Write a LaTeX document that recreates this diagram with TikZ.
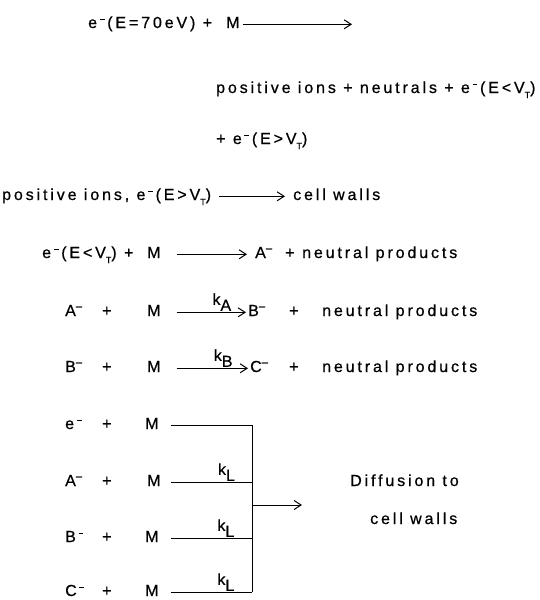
\documentclass[tikz,border=0pt]{standalone}
\usepackage{fontspec}
\setmainfont[LetterSpace=18,FakeBold=0.6]{Liberation Sans}
\usetikzlibrary{arrows.meta,positioning}

\newcommand{\sminus}{\raisebox{0.95ex}{\rule{0.3em}{0.09em}}}
\newcommand{\elec}{e\,\sminus\,}
\newcommand{\anion}[1]{#1\textsuperscript{--}}
\newcommand{\VT}{V\raisebox{-0.6ex}{\small T}}
\newcommand{\rate}[1]{k\raisebox{-0.7ex}{#1}}

\tikzset{
  chem/.style={anchor=base west,inner sep=0pt,text height=1.4ex,text depth=0pt,
    font=\fontsize{16}{18}\selectfont},
  rxn/.style={-{Straight Barb[length=7pt,width=9pt]},line width=1pt},
  rlabel/.style={above,inner sep=1pt,font=\fontsize{16}{18}\selectfont},
}

\begin{document}
\begin{tikzpicture}[x=1pt,y=-1pt]
\useasboundingbox (0,0) rectangle (539,600);
% ionization
\node[chem] (e1) at (88,28) {\elec(E=70eV) +};
\node[chem] (m1) at (226,28) {M};
\coordinate (end1) at (352,0);
\draw[rxn,shorten <=3pt] (m1.east) -- (m1.east -| end1);
\node[chem] (p2) at (216,93) {positive ions + neutrals + \elec(E<\VT)};
\node[chem] (p3) at (216,144) {+ \elec(E>\VT)};
% loss to walls
\node[chem] (w4) at (2,200) {positive ions, \elec(E>\VT)};
\node[chem] (c4) at (293,200) {cell walls};
\draw[rxn,shorten <=8pt,shorten >=8pt] (w4.east) -- (c4.west);
% attachment
\node[chem] (e5) at (42,258) {\elec(E<\VT) +};
\node[chem] (m5) at (147,258) {M};
\node[chem] (a5) at (255,258) {\anion{A}};
\node[chem] (p5) at (285,258) {+};
\node[chem] (n5) at (302,258) {neutral products};
\draw[rxn,shorten <=16pt,shorten >=8pt] (m5.east) -- (m5.east -| a5.west);
\node[chem] (a6) at (65,316) {\anion{A}};
\node[chem] (p6) at (102,316) {+};
\node[chem] (m6) at (147,316) {M};
\node[chem] (b6) at (248,316) {\anion{B}};
\node[chem] (q6) at (289,316) {+};
\node[chem] (n6) at (322,316) {neutral products};
\draw[rxn,shorten <=16pt,shorten >=2pt] (m6.east) -- (m6.east -| b6.west)
  node[rlabel,pos=0.7] {\rate{A}};
\node[chem] (b7) at (65,372) {\anion{B}};
\node[chem] (p7) at (102,372) {+};
\node[chem] (m7) at (147,372) {M};
\node[chem] (c7) at (250,372) {\anion{C}};
\node[chem] (q7) at (289,372) {+};
\node[chem] (n7) at (322,372) {neutral products};
\draw[rxn,shorten <=16pt,shorten >=2pt] (m7.east) -- (m7.east -| c7.west)
  node[rlabel,pos=0.7] {\rate{B}};
% diffusion
\coordinate (bar) at (252,0);
\node[chem] (el) at (65,429) {\elec};
\node[chem] (pe) at (102,429) {+};
\node[chem] (me) at (145,429) {M};
\node[chem] (al) at (65,486) {\anion{A}};
\node[chem] (pa) at (102,486) {+};
\node[chem] (ma) at (147,486) {M};
\node[chem] (bl) at (65,542) {B\,\sminus};
\node[chem] (pb) at (102,542) {+};
\node[chem] (mb) at (145,542) {M};
\node[chem] (cl) at (65,596) {C\,\sminus};
\node[chem] (pc) at (102,596) {+};
\node[chem] (mc) at (145,596) {M};
\draw[line width=1pt,shorten <=12pt] (me.east) -- (me.east -| bar);
\draw[line width=1pt,shorten <=10pt] (ma.east) -- (ma.east -| bar)
  node[rlabel,pos=0.72] {\rate{L}};
\draw[line width=1pt,shorten <=12pt] (mb.east) -- (mb.east -| bar)
  node[rlabel,pos=0.72] {\rate{L}};
\draw[line width=1pt,shorten <=12pt] (mc.east) -- (mc.east -| bar)
  node[rlabel,pos=0.72] {\rate{L}};
\draw[line width=1pt] (me.east -| bar) -- (mc.east -| bar);
\node[chem] (dif1) at (350,486) {Diffusion to};
\node[chem] (dif2) at (370,524) {cell walls};
\coordinate (out) at (252,505);
\coordinate (outend) at (302,505);
\draw[rxn] (out) -- (outend);
\end{tikzpicture}
\end{document}
